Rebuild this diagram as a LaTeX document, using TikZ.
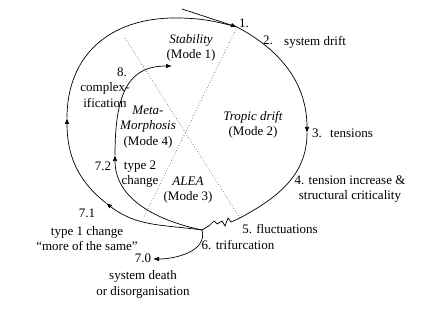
\documentclass[tikz,border=0pt]{standalone}
\usepackage{fontspec}
\setmainfont{Liberation Serif}
\usetikzlibrary{arrows.meta,calc}

\begin{document}
\begin{tikzpicture}[x=1pt,y=1pt,
  loop/.style={line width=0.7pt},
  tip/.style={-{Latex[length=6pt,width=4.5pt]}},
  mode/.style={dotted, gray, line width=0.8pt},
  lbl/.style={font=\fontsize{13}{15.5}\selectfont, inner sep=0pt, align=center}]

\useasboundingbox (0,0) rectangle (427,315);

% Punkte der Schleife
\coordinate (p0) at (182,306);
\coordinate (p1) at (237,288);
\coordinate (p3) at (307,182);
\coordinate (p5) at (238,96);
\coordinate (p6) at (202,85);
\coordinate (p70) at (153,56);
\coordinate (p71) at (106,112);
\coordinate (p72) at (115,160);
\coordinate (pL) at (67,197);
\coordinate (pT) at (175,297);
\coordinate (p8) at (172,249);

% Grenzen der Modi
\coordinate (d1) at (144,98);
\coordinate (d2a) at (125,277);
\coordinate (d2b) at (240,97);

% ------------------- Modi -------------------
\draw[mode] (p1) -- (d1);
\draw[mode] (d2a) -- (d2b);

% ------------------- Schleife -------------------
\draw[loop,tip] (p0) -- (p1);
\draw[loop,tip] (p1) to[out=-28,in=90] (p3);
\draw[loop] (p3) to[out=-90,in=28] (p5);
\draw[loop] (p5) -- ++(-7,-3) -- ++(-3,4) -- ++(-3,-8) -- ++(-3,5)
  -- ++(-5,-3) -- ++(-3,3) -- ++(-4,-4) -- ++(-3,-2) -- (p6);
\draw[loop,tip] (p6) to[out=172,in=-38] (p71);
\draw[loop,tip] (p71) to[out=142,in=-90] (pL);
\draw[loop] (pL) .. controls (67,260) and (110,297) .. (pT)
  to[out=0,in=165] (p1);

% Wege ab der Trifurkation
\draw[loop,tip] (p6) to[out=168,in=-90] (p72);
\draw[loop,tip] (p72) .. controls (115,225) and (130,249) .. (p8);
\draw[loop,tip] (p6) to[out=-75,in=0] (p70);

% ------------------- Texte -------------------
\node[lbl, anchor=west] (n1) at (239,292) {1.};
\node[lbl] (n2) at (268,275) {2.};
\node[lbl, anchor=west] (n2t) at (284,273) {system drift};
\node[lbl] (n3) at (317,182) {3.};
\node[lbl, anchor=west] (n3t) at (330,182) {tensions};
\node[lbl] (n4) at (350,126) {4. tension increase \&\\structural criticality};
\node[lbl] (n5) at (280,86) {5. fluctuations};
\node[lbl] (n6) at (238,70) {6. trifurcation};
\node[lbl] (n70) at (143,39) {7.0\\[2pt]system death\\or disorganisation};
\node[lbl] (n71) at (87,85) {7.1\\[2pt]type 1 change\\``more of the same''};
\node[lbl] (n72) at (103,149) {7.2};
\node[lbl] (n72t) at (140,141) {type 2\\change};
\node[lbl] (n8) at (122,243) {8.};
\node[lbl] (n8t) at (105,220) {complex-\\ification};
\node[lbl] (m1) at (191,267) {\textit{Stability}\\(Mode 1)};
\node[lbl] (m2) at (253,190) {\textit{Tropic drift}\\(Mode 2)};
\node[lbl] (m3) at (188,125) {\textit{ALEA}\\(Mode 3)};
\node[lbl] (m4) at (148,188) {\textit{Meta-}\\\textit{Morphosis}\\(Mode 4)};

\end{tikzpicture}
\end{document}
